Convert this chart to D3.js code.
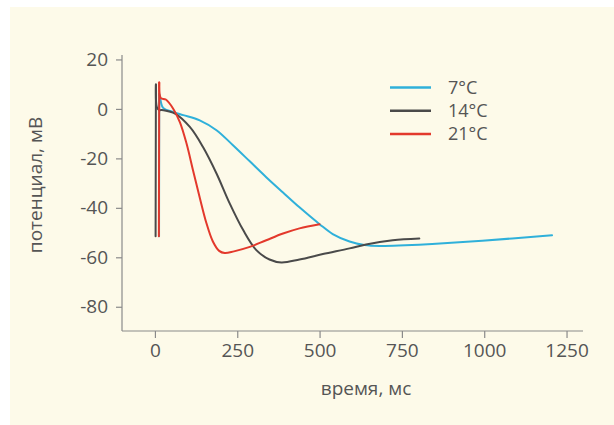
<!DOCTYPE html>
<html><head><meta charset="utf-8">
<script src="https://cdn.jsdelivr.net/npm/d3@7"></script>
<style>
html,body{margin:0;padding:0;background:#ffffff;}
svg{display:block;font-family:"Open Sans","Noto Sans",sans-serif;}
</style></head>
<body>
<svg id="chart" width="614" height="425"></svg>
<script>
// ---- data ----
const seriesNames = ["7°C", "14°C", "21°C"];
const seriesColors = ["#2fb0da", "#4a4a4a", "#e3392c"];
const xTicks = [0, 250, 500, 750, 1000, 1250];
const yTicks = [20, 0, -20, -40, -60, -80];

// first two points of each series = the vertical upstroke
const time7  = [12.5, 13, 16, 25, 55, 86, 136, 187, 237, 288, 338, 389, 439, 500, 540, 591, 636, 682, 760, 842, 994, 1206];
const volt7  = [-51.5, 6, 4.2, 0.4, -1.2, -2.5, -4.6, -8.6, -14.7, -21.2, -27.6, -33.8, -39.8, -46.6, -50.6, -53.6, -55.0, -55.4, -55.1, -54.6, -53.3, -51.1];

const time14 = [2, 3, 6, 12, 25, 61, 106, 146, 187, 227, 268, 308, 348, 384, 439, 510, 591, 641, 722, 803];
const volt14 = [-51.5, 9.9, 0.6, -0.4, -0.5, -1.9, -7.3, -15.4, -26.1, -38.2, -49.0, -57.1, -60.9, -62.1, -60.9, -58.7, -56.4, -54.8, -53.1, -52.4];

const time21 = [12, 13, 18, 33, 55, 76, 96, 116, 136, 156, 176, 195, 212, 240, 288, 338, 389, 439, 500];
const volt21 = [-51.5, 10.7, 4.4, 3.8, 0.2, -5.4, -14.0, -25.0, -35.8, -46.0, -53.6, -57.4, -58.3, -57.6, -55.8, -53.1, -50.4, -48.3, -46.6];

// ---- layout ----
const svg = d3.select("#chart");
const W = 614, H = 425;
const m = {left: 122, top: 55, right: 31, bottom: 94};
const pw = W - m.left - m.right, ph = H - m.top - m.bottom;

svg.append("rect").attr("x", 10).attr("y", 7).attr("width", W - 10).attr("height", H - 7).attr("fill", "#fdfae9");

const x = d3.scaleLinear().domain([-100, 1300]).range([m.left, m.left + pw]);
const y = d3.scaleLinear().domain([-89.8, 21.8]).range([m.top + ph, m.top]);

const axisColor = "#8a8a8a", textColor = "#555555";

const gx = svg.append("g").attr("transform", `translate(0,${m.top + ph})`)
  .call(d3.axisBottom(x).tickValues(xTicks).tickSize(7).tickPadding(6).tickFormat(d3.format("d")));
const gy = svg.append("g").attr("transform", `translate(${m.left},0)`)
  .call(d3.axisLeft(y).tickValues(yTicks).tickSize(6).tickPadding(8).tickFormat(d => d < 0 ? "-" + Math.abs(d) : d));
[gx, gy].forEach(g => {
  g.select(".domain").attr("stroke", axisColor).attr("stroke-width", 1.2);
  g.selectAll(".tick line").attr("stroke", axisColor).attr("stroke-width", 1.2);
  g.selectAll(".tick text").attr("fill", textColor).style("font-size", "19px").style("font-family", '"Open Sans","Noto Sans",sans-serif');
});
gx.select(".domain").attr("d", `M${m.left},0H${m.left + pw}`);
gy.select(".domain").attr("d", `M0,${m.top}V${m.top + ph}`);

// axis titles
svg.append("text").attr("x", 366).attr("y", 395).attr("text-anchor", "middle")
  .attr("fill", textColor).style("font-size", "19px").text("время, мс");
svg.append("text").attr("transform", "translate(42,185) rotate(-90)").attr("text-anchor", "middle")
  .attr("fill", textColor).style("font-size", "19px").text("потенциал, мВ");

// lines: upstroke straight, rest smooth
const straight = d3.line().x(d => x(d[0])).y(d => y(d[1]));
const smooth = d3.line().x(d => x(d[0])).y(d => y(d[1])).curve(d3.curveCatmullRom.alpha(0.5));
const allSeries = [
  d3.zip(time7, volt7),
  d3.zip(time14, volt14),
  d3.zip(time21, volt21)
];
allSeries.forEach((s, i) => {
  const g = svg.append("g").attr("fill", "none").attr("stroke", seriesColors[i])
    .attr("stroke-width", 2).attr("stroke-linejoin", "round").attr("stroke-linecap", "round");
  g.append("path").datum(s.slice(0, 2)).attr("d", straight);
  g.append("path").datum(s.slice(1)).attr("d", smooth);
});

// legend
const lg = svg.append("g");
seriesNames.forEach((n, i) => {
  const yy = 87.5 + i * 23.3;
  lg.append("line").attr("x1", 390).attr("x2", 431).attr("y1", yy).attr("y2", yy)
    .attr("stroke", seriesColors[i]).attr("stroke-width", 2.5);
  lg.append("text").attr("x", 448).attr("y", yy).attr("dy", "0.35em")
    .attr("fill", textColor).style("font-size", "18px").text(n);
});
</script>
</body></html>
